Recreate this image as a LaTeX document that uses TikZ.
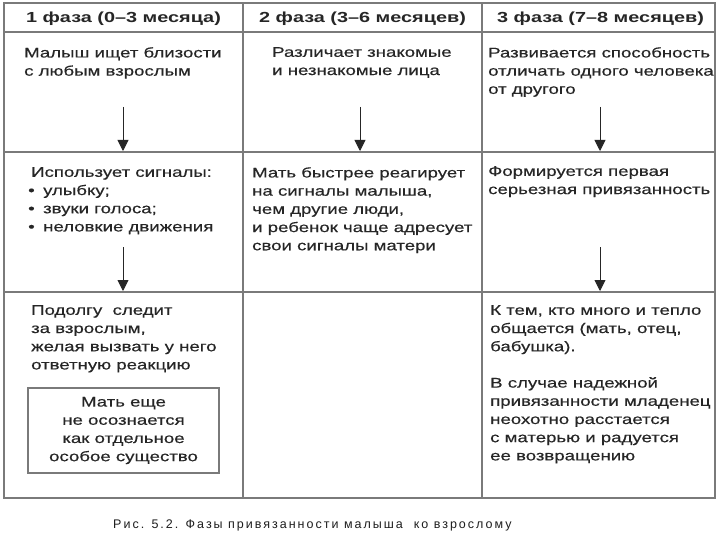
\documentclass[tikz,border=0pt]{standalone}
\usepackage{fontspec}
\setmainfont{Liberation Sans}[FakeStretch=1.33,FakeBold=0.4]
\newfontfamily\hdrfont{Liberation Sans}[FakeStretch=1.36]
\newfontfamily\capfont{Liberation Sans}[LetterSpace=16]
\usetikzlibrary{arrows.meta}
\definecolor{lc}{HTML}{7A7A7A}
\definecolor{tc}{HTML}{262626}
\definecolor{capc}{HTML}{1E1E1E}
\newcommand{\bul}{\hspace*{-3pt}\makebox[15pt][l]{\textbullet}}
\begin{document}
\begin{tikzpicture}[x=1pt,y=-1pt,
  grid/.style={draw=lc,line width=1.8pt},
  txt/.style={anchor=north west,inner sep=0pt,align=left,text=tc,font=\fontsize{14}{18.2}\selectfont},
  hdr/.style={anchor=base,inner sep=0pt,text=tc,font=\hdrfont\fontsize{14.6}{17}\selectfont\bfseries},
  arr/.style={draw=tc,line width=0.9pt,-{Triangle[width=11pt,length=11pt]}},
  inbox/.style={draw=lc,line width=1.5pt,minimum width=191pt,minimum height=85pt,inner sep=0pt,align=center,text=tc,font=\fontsize{14}{18.2}\selectfont}]
\useasboundingbox (0,0) rectangle (720,540);
\fill[white] (0,0) rectangle (720,540);
% table grid
\draw[grid] (4,3) rectangle (715,498);
\draw[grid] (243,3) -- (243,498);
\draw[grid] (482,3) -- (482,498);
\draw[grid] (4,32) -- (715,32);
\draw[grid] (4,152) -- (715,152);
\draw[grid] (4,292) -- (715,292);
% headers
\node[hdr] (h1) at (123.5,23) {1 фаза (0–3 месяца)};
\node[hdr] (h2) at (362.5,23) {2 фаза (3–6 месяцев)};
\node[hdr] (h3) at (600.5,23) {3 фаза (7–8 месяцев)};
% row 1
\node[txt] (r1c1) at (24,47) {Малыш ищет близости\\с любым взрослым};
\node[txt] (r1c2) at (272,47) {Различает знакомые\\и незнакомые лица};
\node[txt] (r1c3) at (488,47) {Развивается способность\\отличать одного человека\\от другого};
% row 2
\node[txt] (r2c1) at (31,167) {Использует сигналы:\\\bul улыбку;\\\bul звуки голоса;\\\bul неловкие движения};
\node[txt] (r2c2) at (252,167) {Мать быстрее реагирует\\на сигналы малыша,\\чем другие люди,\\и ребенок чаще адресует\\свои сигналы матери};
\node[txt] (r2c3) at (488,166) {Формируется первая\\серьезная привязанность};
% row 3
\node[txt] (r3c1) at (31,305) {Подолгу\ \ следит\\за взрослым,\\желая вызвать у него\\ответную реакцию};
\node[inbox] (note) at (123.5,430.5) {Мать еще\\не осознается\\как отдельное\\особое существо};
\node[txt] (r3c3a) at (490,305) {К тем, кто много и тепло\\общается (мать, отец,\\бабушка).};
\node[txt] (r3c3b) at (490,377) {В случае надежной\\привязанности младенец\\неохотно расстается\\с матерью и радуется\\ее возвращению};
% arrows
\coordinate (a1s) at (123,107); \coordinate (a1e) at (123,151);
\coordinate (a2s) at (360,107); \coordinate (a2e) at (360,151);
\coordinate (a3s) at (600,107); \coordinate (a3e) at (600,151);
\coordinate (b1s) at (123,247); \coordinate (b1e) at (123,291);
\coordinate (b3s) at (600,247); \coordinate (b3e) at (600,291);
\draw[arr] (a1s) -- (a1e);
\draw[arr] (a2s) -- (a2e);
\draw[arr] (a3s) -- (a3e);
\draw[arr] (b1s) -- (b1e);
\draw[arr] (b3s) -- (b3e);
% caption
\node[anchor=base west,inner sep=0pt,text=capc,font=\capfont\fontsize{12.5}{14}\selectfont] (cap) at (113,528) {Рис. 5.2. Фазы привязанности малыша\ \ ко взрослому};
\end{tikzpicture}
\end{document}
